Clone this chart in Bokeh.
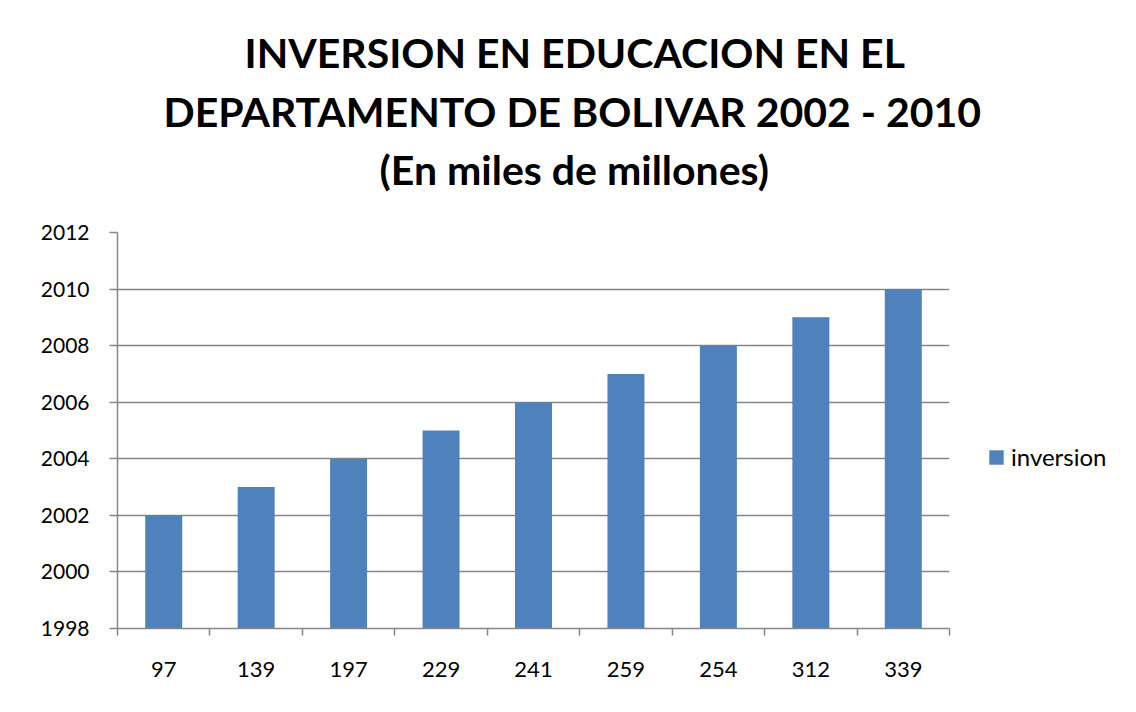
from bokeh.plotting import figure
from bokeh.models import (Range1d, FixedTicker, Title, Legend, LegendItem)
from bokeh.embed import file_html
from bokeh.resources import INLINE

# ---- data ----
categories = ["97", "139", "197", "229", "241", "259", "254", "312", "339"]
years = [2002, 2003, 2004, 2005, 2006, 2007, 2008, 2009, 2010]
y_ticks = [1998, 2000, 2002, 2004, 2006, 2008, 2010, 2012]
title_lines = ["INVERSION EN EDUCACION EN EL",
               "DEPARTAMENTO DE BOLIVAR 2002 -  2010",
               "(En miles de millones)"]
series_name = "inversion"

FONT = "Lato"
GRID = "#868686"
BAR = "#4F81BD"

x_pos = [i + 0.5 for i in range(len(categories))]

p = figure(frame_width=832, frame_height=396, output_backend="svg", toolbar_location=None,
           x_range=Range1d(0, len(categories)), y_range=Range1d(y_ticks[0], y_ticks[-1]),
           min_border_left=117, min_border_right=183, min_border_top=232,
           min_border_bottom=80)
p.outline_line_color = None
p.background_fill_color = "white"
p.border_fill_color = "white"

r = p.vbar(x=x_pos, top=years, bottom=y_ticks[0], width=0.4,
           fill_color=BAR, line_color=None)

# x axis: labels at centers, ticks at category boundaries
xa = p.xaxis[0]
xa.ticker = FixedTicker(ticks=x_pos, minor_ticks=list(range(len(categories) + 1)))
xa.major_label_overrides = {x: c for x, c in zip(x_pos, categories)}
xa.major_tick_out = 0
xa.major_tick_in = 0
xa.minor_tick_out = 7
xa.minor_tick_in = 0
xa.minor_tick_line_color = GRID
xa.minor_tick_line_width = 1.5
xa.axis_line_color = GRID
xa.axis_line_width = 1.5
xa.major_label_standoff = 26
xa.major_label_text_font = FONT
xa.major_label_text_font_size = "22px"
xa.major_label_text_color = "black"

ya = p.yaxis[0]
ya.ticker = FixedTicker(ticks=y_ticks)
ya.major_tick_out = 8
ya.major_tick_in = 0
ya.minor_tick_out = 0
ya.minor_tick_in = 0
ya.major_tick_line_color = GRID
ya.major_tick_line_width = 1.5
ya.axis_line_color = GRID
ya.axis_line_width = 1.5
ya.major_label_standoff = 20
ya.major_label_text_font = FONT
ya.major_label_text_font_size = "21px"
ya.major_label_text_color = "black"

p.xgrid.visible = False
p.ygrid.grid_line_color = GRID
p.ygrid.grid_line_width = 1.5
p.ygrid.ticker = FixedTicker(ticks=y_ticks)

# blank spacer between the frame and the title block
p.add_layout(Title(text=" ", text_font=FONT, text_font_size="10px", standoff=23), "above")

# titles: first added is closest to the frame
offsets = [127, 46, 262]
standoffs = [6, 10, 4]
for line, off, so in reversed(list(zip(title_lines, offsets, standoffs))):
    t = Title(text=line, align="left", text_font=FONT, text_font_style="bold",
              text_font_size="41px", text_color="black", offset=off,
              standoff=so)
    p.add_layout(t, "above")

legend = Legend(items=[LegendItem(label=series_name, renderers=[r])],
                location=(38, 157), margin=0, padding=0,
                glyph_width=18, glyph_height=18, label_standoff=6,
                label_text_font=FONT, label_text_font_size="24px",
                label_text_color="black", border_line_color=None,
                background_fill_alpha=0)
p.add_layout(legend, "right")

open("out.html", "w").write(file_html(p, INLINE))
